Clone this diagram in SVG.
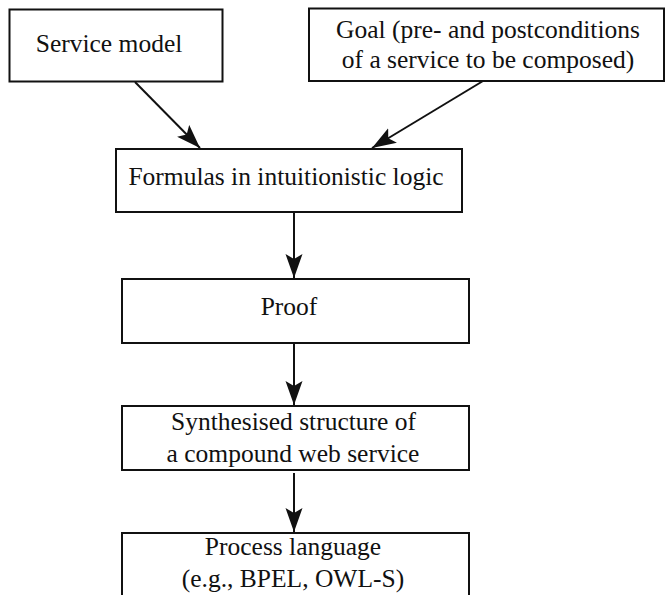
<svg xmlns="http://www.w3.org/2000/svg" width="666" height="595" viewBox="0 0 666 595">
  <style>
    .box { fill: #ffffff; stroke: #111111; stroke-width: 2; }
    .lbl { font-size: 25.5px; fill: #111111; text-anchor: middle; }
    .edge { stroke: #111111; stroke-width: 2; fill: none; marker-end: url(#arrow); }
  </style>
  <defs>
    <!-- notched filled arrowhead, tip at the end of the line -->
    <marker id="arrow" markerUnits="userSpaceOnUse" markerWidth="26" markerHeight="18" refX="24" refY="8.5" orient="auto">
      <path d="M0,0 L24,8.5 L0,17 L5,8.5 z" fill="#111111"/>
    </marker>
  </defs>
  <rect width="666" height="595" fill="#ffffff"/>

  <g id="connectors">
    <line class="edge" x1="135" y1="82" x2="200" y2="148"/>
    <line class="edge" x1="483" y1="81" x2="372" y2="148"/>
    <line class="edge" x1="294" y1="212" x2="294" y2="278"/>
    <line class="edge" x1="294" y1="343" x2="294" y2="405"/>
    <line class="edge" x1="294" y1="473" x2="294" y2="532"/>
  </g>

  <g font-family="Liberation Serif, Times New Roman, serif">
    <g id="service-model">
      <rect class="box" x="9.5" y="9.5" width="213" height="72"/>
      <text class="lbl" x="109" y="52">Service model</text>
    </g>

    <g id="goal">
      <rect class="box" x="309" y="8.5" width="355" height="72.5"/>
      <text class="lbl" x="488" y="38">Goal (pre- and postconditions</text>
      <text class="lbl" x="488" y="68">of a service to be composed)</text>
    </g>

    <g id="formulas">
      <rect class="box" x="116" y="149" width="346" height="63"/>
      <text class="lbl" x="286" y="185">Formulas in intuitionistic logic</text>
    </g>

    <g id="proof">
      <rect class="box" x="122" y="279" width="347" height="64"/>
      <text class="lbl" x="289" y="315">Proof</text>
    </g>

    <g id="synthesised-structure">
      <rect class="box" x="122" y="406" width="347" height="64"/>
      <text class="lbl" x="293.5" y="430">Synthesised structure of</text>
      <text class="lbl" x="293" y="462">a compound web service</text>
    </g>

    <g id="process-language">
      <rect class="box" x="122" y="533" width="347" height="90"/>
      <text class="lbl" x="293" y="555">Process language</text>
      <text class="lbl" x="293" y="587">(e.g., BPEL, OWL-S)</text>
    </g>
  </g>
</svg>
